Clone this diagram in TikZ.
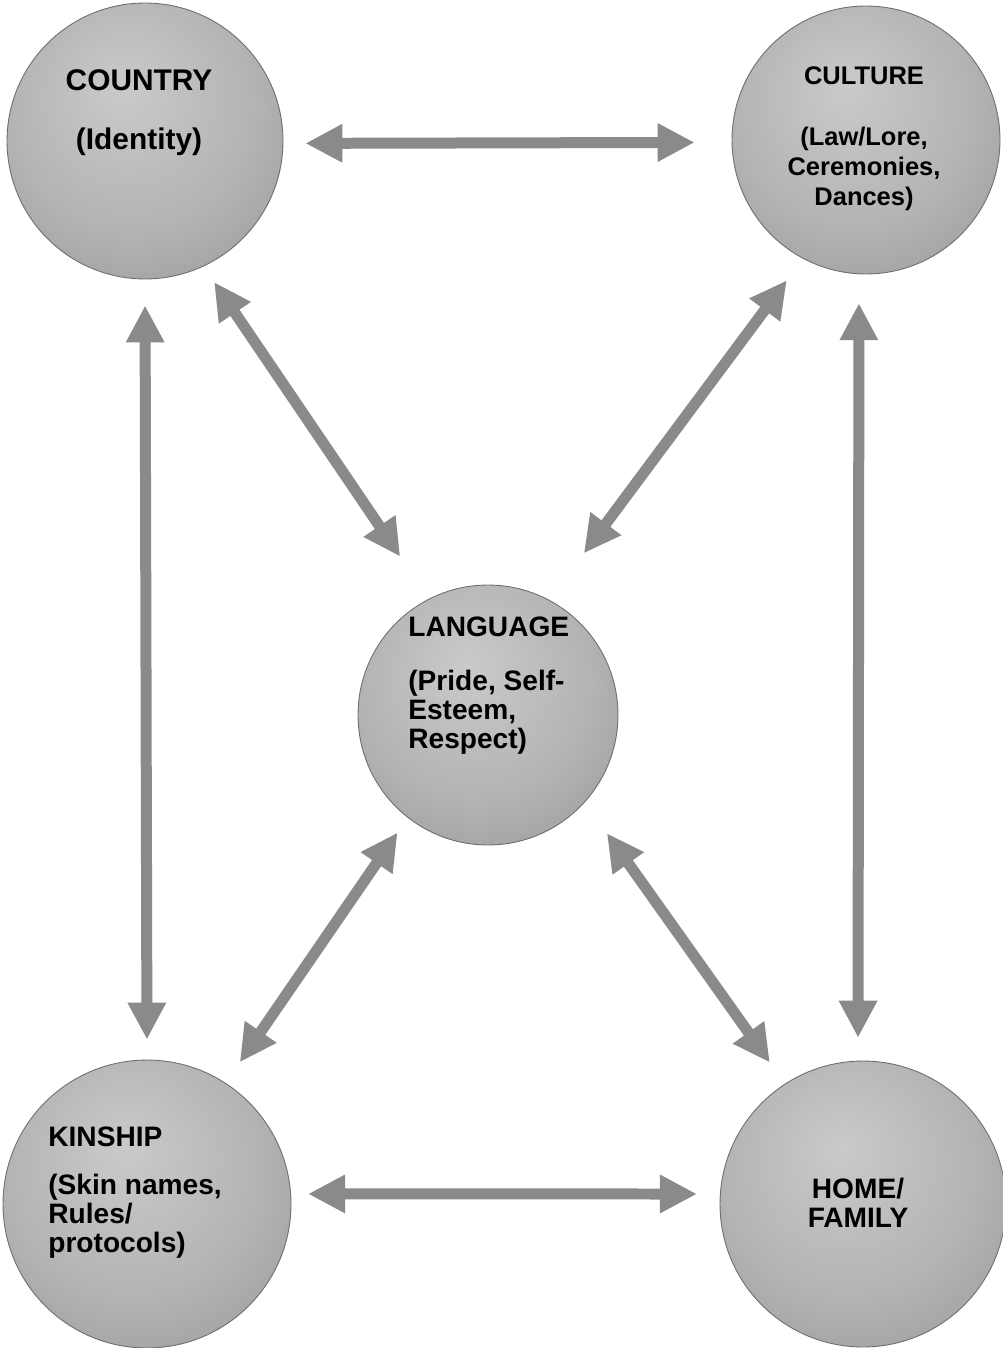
\documentclass[tikz,border=0pt]{standalone}
\usepackage{fontspec}
\setmainfont{Liberation Sans}
\usetikzlibrary{arrows.meta}
\definecolor{ballin}{RGB}{202, 202, 202}
\definecolor{ballmid}{RGB}{180, 180, 180}
\definecolor{ballout}{RGB}{138, 138, 138}
\definecolor{ballrim}{RGB}{110, 110, 110}
\definecolor{linkgray}{RGB}{138, 138, 138}
\pgfdeclareradialshading{ballshade}{\pgfpoint{-4bp}{10bp}}{%
  color(0bp)=(ballin); color(22bp)=(ballmid); color(48bp)=(ballout); color(60bp)=(ballout)}

\tikzset{
  bubble/.style={circle, draw=ballrim, line width=0.5pt,
    shading=ballshade, minimum size=#1},
  heading/.style={font=\fontsize{16}{16.5}\selectfont\bfseries, inner sep=0pt},
  link/.style={{Triangle[width=0.72cm,length=0.74cm]}-{Triangle[width=0.72cm,length=0.74cm]},
    line width=0.22cm, draw=linkgray}
}

\begin{document}
\begin{tikzpicture}[x=0.02cm, y=-0.02cm]
        \useasboundingbox[fill=white] (0,0) rectangle (1003,1348);

        % circles
        \node[bubble=5.52cm] (country) at (145,141) {};
        \node[bubble=5.36cm] (culture) at (866,140) {};
        \node[bubble=5.20cm] (language) at (488,715) {};
        \node[bubble=5.76cm] (kinship) at (147,1204) {};
        \node[bubble=5.72cm] (home) at (863,1204) {};

        % texts
        \node[heading, font=\fontsize{17}{18}\selectfont\bfseries] (countrytitle) at (139,80) {COUNTRY};
        \node[heading, font=\fontsize{17}{18}\selectfont\bfseries] (countrybody) at (139,142) {(Identity)};

        \node[heading, font=\fontsize{14.5}{17}\selectfont\bfseries] (culturetitle) at (864,76) {CULTURE};
        \node[heading, font=\fontsize{14.5}{17}\selectfont\bfseries, align=center] (culturebody) at (864,169)
            {(Law/Lore,\\Ceremonies,\\Dances)};

        \node[heading, anchor=west] (languagetitle) at (408,627) {LANGUAGE};
        \node[heading, anchor=west, align=left] (languagebody) at (408,712)
            {(Pride, Self-\\Esteem,\\Respect)};

        \node[heading, anchor=west] (kinshiptitle) at (48,1137) {KINSHIP};
        \node[heading, anchor=west, align=left] (kinshipbody) at (48,1216)
            {(Skin names,\\Rules/\\protocols)};

        \node[heading, align=center] (hometitle) at (858,1203) {HOME/\\FAMILY};

        % connectors
        \draw[link, shorten <=0.44cm, shorten >=0.74cm] (country.-1) -- (culture.181);
        \draw[link, shorten <=0.34cm, shorten >=0.46cm] (kinship.4) -- (home.176);
        \draw[link, shorten <=0.52cm, shorten >=0.40cm] (country.south) -- (kinship.north);
        \draw[link, shorten <=0.58cm, shorten >=0.46cm] (culture.267) -- (home.92);
        \draw[link, shorten <=0.38cm, shorten >=1.02cm] (country.-65) -- (language.117);
        \draw[link, shorten <=0.54cm, shorten >=1.16cm] (culture.-118) -- (language.62);
        \draw[link, shorten <=0.36cm, shorten >=0.50cm] (language.-128) -- (kinship.57);
        \draw[link, shorten <=0.76cm, shorten >=0.52cm] (language.-42) -- (home.123);
    \end{tikzpicture}
\end{document}
